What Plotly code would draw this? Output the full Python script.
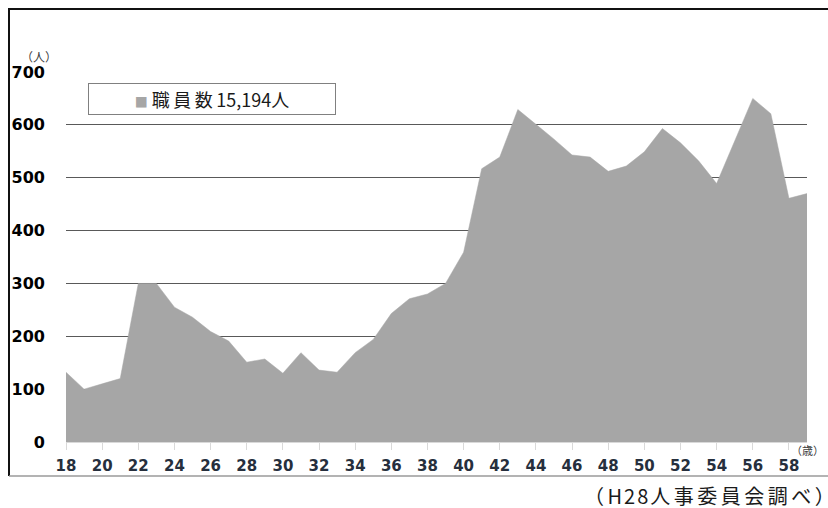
import plotly.graph_objects as go

# Staff headcount by age (persons)
ages = list(range(18, 60))
staff = [
    132, 100, 110, 120, 300, 300, 255, 236, 209, 191,
    151, 157, 130, 169, 136, 132, 169, 194, 243, 271,
    280, 300, 359, 517, 539, 629, 601, 573, 543, 539,
    512, 522, 549, 593, 566, 532, 489, 571, 650, 621,
    461, 470,
]
x_ticks = list(range(18, 60, 2))
y_ticks = list(range(0, 701, 100))
legend_label = "職員数"
legend_count = "15,194人"
y_unit = "（人）"
x_unit = "（歳）"
source_open, source_code, source_body, source_close = "（", "H28", "人事委員会調べ", "）"

W, H = 828, 508
L, R, T, B = 66, 21, 72, 66
pw, ph = W - L - R, H - T - B


def px(xp):
    return (xp - L) / pw


def py(yp):
    return (H - B - yp) / ph


fig = go.Figure()
fig.add_trace(go.Scatter(
    x=ages, y=staff, name=legend_label + legend_count, mode="lines",
    fill="tozeroy", fillcolor="#a6a6a6",
    line=dict(color="#a6a6a6", width=0.5),
    showlegend=False, hoverinfo="x+y",
))

frame = dict(type="line", xref="paper", yref="paper")
shapes = [
    dict(frame, x0=px(9), x1=px(9), y0=py(9), y1=py(476), line=dict(color="#111111", width=2)),
    dict(frame, x0=px(8), x1=px(830), y0=py(9), y1=py(9), line=dict(color="#111111", width=2)),
    dict(frame, x0=px(9), x1=px(830), y0=py(476), y1=py(476), line=dict(color="#9a9a9a", width=1.5)),
]

legend_html = (
    "<span style='color:#a6a6a6;font-size:13px'>■</span> "
    "<span style='letter-spacing:3.5px'>" + legend_label + "</span>" + legend_count
)

source_html = (
    "<span style='letter-spacing:3.5px'>" + source_open + "</span>"
    "<span style='letter-spacing:2px'>" + source_code + "</span>"
    "<span style='letter-spacing:3.5px'>" + source_body + source_close + "</span>"
)

annotations = [
    dict(xref="paper", yref="paper", x=px(212), y=py(99), showarrow=False,
         text=legend_html,
         font=dict(family="Noto Sans CJK JP", size=18, color="#1a1a1a"),
         width=244, height=28, borderpad=1, bordercolor="#808080", borderwidth=1,
         bgcolor="white", align="center", xanchor="center", yanchor="middle"),
    dict(xref="paper", yref="paper", x=px(39), y=py(57), showarrow=False,
         text=y_unit, font=dict(family="Noto Sans CJK JP", size=12, color="#404040"),
         xanchor="center", yanchor="middle"),
    dict(xref="paper", yref="paper", x=px(807), y=py(450), showarrow=False,
         text=x_unit, font=dict(family="Noto Sans CJK JP", size=11, color="#404040"),
         xanchor="center", yanchor="middle"),
    dict(xref="paper", yref="paper", x=px(582), y=py(495), showarrow=False,
         text=source_html,
         font=dict(family="Noto Sans CJK JP", size=20, color="#1a1a1a"),
         xanchor="left", yanchor="middle"),
]

fig.update_layout(
    width=W, height=H,
    margin=dict(l=L, r=R, t=T, b=B),
    paper_bgcolor="white", plot_bgcolor="white",
    shapes=shapes, annotations=annotations,
    xaxis=dict(
        range=[18, 59], tickvals=x_ticks, ticktext=[str(v) for v in x_ticks],
        showgrid=False, zeroline=False,
        showline=False, ticks="outside", ticklen=7, tickcolor="#d9d9d9", tickwidth=1,
        ticklabelstandoff=3,
        tickfont=dict(family="DejaVu Sans", size=15, color="#262f3d", weight="bold"),
    ),
    yaxis=dict(
        range=[0, 700], tickvals=y_ticks, ticktext=[str(v) for v in y_ticks],
        showgrid=True, gridcolor="#595959", gridwidth=1,
        zeroline=True, zerolinecolor="#d9d9d9", zerolinewidth=1.5,
        ticks="", ticklabelstandoff=20,
        tickfont=dict(family="DejaVu Sans", size=16, color="#000000", weight="bold"),
    ),
)

fig.write_html("out.html")
